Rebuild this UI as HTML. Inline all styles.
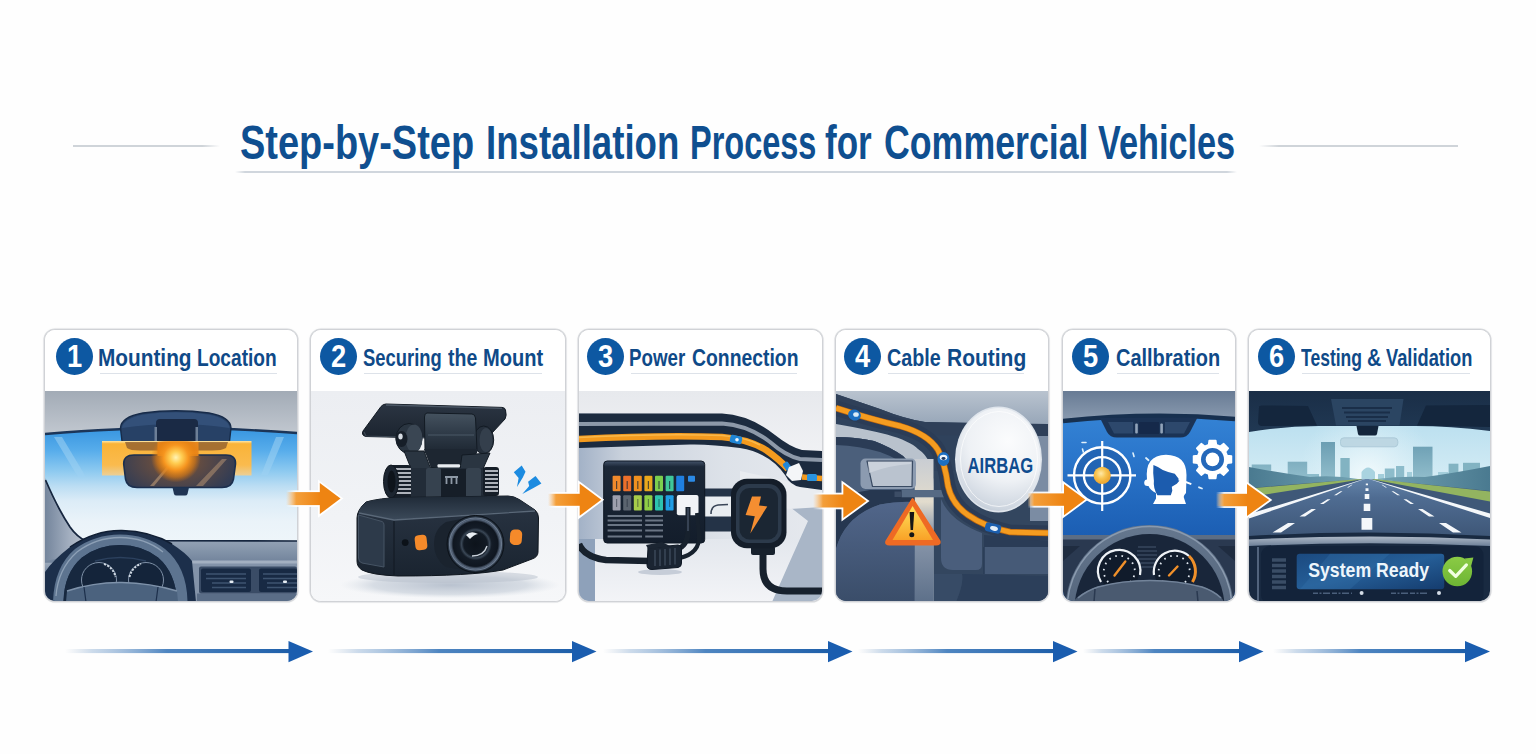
<!DOCTYPE html>
<html lang="en">
<head>
<meta charset="utf-8">
<title>Step-by-Step Installation Process for Commercial Vehicles</title>
<style>
  html,body{margin:0;padding:0;}
  body{width:1536px;height:754px;overflow:hidden;background:#fefefe;
    font-family:"Liberation Sans",sans-serif;}
  .page{position:relative;width:1536px;height:754px;background:#fefefe;overflow:hidden;}
  .title{position:absolute;left:0;top:114.6px;width:1536px;height:56px;margin:0;white-space:nowrap;
    font-size:48px;line-height:56px;font-weight:700;color:#0f4f90;letter-spacing:0;}
  .title .w{position:absolute;top:0;display:block;transform-origin:0 50%;}
  #w0{left:239.6px;transform:scaleX(0.7907);}
  #w1{left:485.9px;transform:scaleX(0.7631);}
  #w2{left:690.2px;transform:scaleX(0.6767);}
  #w3{left:824.9px;transform:scaleX(0.7297);}
  #w4{left:884.2px;transform:scaleX(0.7442);}
  #w5{left:1098.3px;transform:scaleX(0.7139);}
  .rule{position:absolute;height:2px;background:#d5dde6;}
  .card{position:absolute;top:329px;height:273px;box-sizing:border-box;
    border:1px solid #d0d2d6;border-radius:11px;background:#fff;overflow:hidden;
    box-shadow:0 0 0 .6px #dadcdf,0 0 2px rgba(140,145,155,.22);}
  .head{position:absolute;left:0;top:0;right:0;height:61px;background:#fff;}
  .num{position:absolute;top:7.9px;width:37px;height:37px;border-radius:50%;
    background:#0d58a2;color:#fff;font-weight:700;font-size:31px;line-height:37px;text-align:center;}
  .num b{display:inline-block;transform:scaleX(.88);}
  .lbl{position:absolute;left:0;top:13.7px;width:100%;height:28px;white-space:nowrap;font-weight:700;font-size:24px;line-height:28px;
    color:#0f4a88;}
  .lbl .w{position:absolute;top:0;display:block;transform-origin:0 50%;}
  #l10{left:52.7px;transform:scaleX(0.8667);}
  #l11{left:152.0px;transform:scaleX(0.7970);}
  #l20{left:51.6px;transform:scaleX(0.7670);}
  #l21{left:137.0px;transform:scaleX(0.8116);}
  #l22{left:172.4px;transform:scaleX(0.8365);}
  #l30{left:50.0px;transform:scaleX(0.7803);}
  #l31{left:113.4px;transform:scaleX(0.8070);}
  #l40{left:50.8px;transform:scaleX(0.8221);}
  #l41{left:110.7px;transform:scaleX(0.8743);}
  #l50{left:52.7px;transform:scaleX(0.8318);}
  #l60{left:52.0px;transform:scaleX(0.7304);}
  #l61{left:117.8px;transform:scaleX(0.8256);}
  #l62{left:137.4px;transform:scaleX(0.7619);}
  .ul{position:absolute;top:43px;height:1.4px;background:#dde2e9;}
  .art{position:absolute;left:0;top:61px;display:block;}
  .flow{position:absolute;left:0;top:0;width:1536px;height:754px;pointer-events:none;}
</style>
</head>
<body>
<div class="page">

  <h1 class="title" id="title"><span class="w" id="w0">Step-by-Step</span> <span class="w" id="w1">Installation</span> <span class="w" id="w2">Process</span> <span class="w" id="w3">for</span> <span class="w" id="w4">Commercial</span> <span class="w" id="w5">Vehicles</span></h1>
  <div class="rule" style="left:73px;top:145.200px;width:147px;height:1.500px;background:linear-gradient(90deg,#cfd4d9 0,#cfd4d9 88%,rgba(207,212,217,0) 100%)"></div>
  <div class="rule" style="left:1259px;top:145.200px;width:199px;height:1.500px;background:linear-gradient(90deg,rgba(207,212,217,0) 0,#cfd4d9 10%,#cfd4d9 100%)"></div>
  <div class="rule" style="left:235px;top:171.200px;width:1002px;height:1.600px;background:linear-gradient(90deg,rgba(208,214,221,0) 0,#d0d6dd 1%,#d0d6dd 99%,rgba(208,214,221,0) 100%)"></div>

  <!-- CARD 1 -->
  <section class="card" id="c1" style="left:44px;width:254px;">
    <div class="head"><span class="num" style="left:11px"><b>1</b></span>
      <span class="lbl"><span class="w" id="l10">Mounting</span> <span class="w" id="l11">Location</span></span><i class="ul" style="left:55px;width:177px"></i></div>
    <svg class="art" id="a1" width="252" height="211" viewBox="45 390 252 211">
      <defs>
        <linearGradient id="a1roof" x1="0" y1="0" x2="0" y2="1"><stop offset="0" stop-color="#a2abb6"/><stop offset="1" stop-color="#c3c9d1"/></linearGradient>
        <linearGradient id="a1glass" x1="0" y1="0" x2="0" y2="1"><stop offset="0" stop-color="#3795e0"/><stop offset=".2" stop-color="#58adeb"/><stop offset=".38" stop-color="#8ecaf0"/><stop offset=".51" stop-color="#bbddf3"/><stop offset=".64" stop-color="#dcecf7"/><stop offset=".82" stop-color="#eaf3f9"/><stop offset="1" stop-color="#eef5fa"/></linearGradient>
        <radialGradient id="a1glow" cx="175.9" cy="456.500" r="25" gradientUnits="userSpaceOnUse"><stop offset="0" stop-color="#fff4b5"/><stop offset=".24" stop-color="#ffcd52"/><stop offset=".5" stop-color="#f6951f"/><stop offset=".78" stop-color="#e6800f" stop-opacity=".6"/><stop offset="1" stop-color="#d9740e" stop-opacity="0"/></radialGradient><clipPath id="a1gc"><rect x="101.500" y="440" width="149" height="48"/></clipPath>
        <linearGradient id="a1org" x1="0" y1="0" x2="0" y2="1"><stop offset="0" stop-color="#ffe7a6"/><stop offset=".08" stop-color="#f9b338"/><stop offset=".7" stop-color="#fabb4e"/><stop offset="1" stop-color="#fbcf86" stop-opacity=".85"/></linearGradient>
        <linearGradient id="a1dash" x1="0" y1="0" x2="0" y2="1"><stop offset="0" stop-color="#93a2b5"/><stop offset=".35" stop-color="#71839b"/><stop offset=".36" stop-color="#9aa8ba"/><stop offset=".5" stop-color="#7f90a7"/><stop offset="1" stop-color="#6c7f98"/></linearGradient>
        <linearGradient id="a1pillar" x1="0" y1="0" x2="1" y2="0"><stop offset="0" stop-color="#74859c"/><stop offset=".6" stop-color="#a3afc0"/><stop offset="1" stop-color="#b9c1cc"/></linearGradient>
        <radialGradient id="a1mir" cx="176" cy="460" r="62" gradientUnits="userSpaceOnUse" gradientTransform="translate(0 184) scale(1 .6)"><stop offset="0" stop-color="#8a5a32"/><stop offset=".45" stop-color="#5d4a44"/><stop offset="1" stop-color="#323c54"/></radialGradient>
      </defs>
      <rect x="45" y="390" width="252" height="45" fill="url(#a1roof)"/>
      <!-- windshield glass -->
      <path d="M45 433 Q120 427 172 427 Q230 427 297 432 L297 541 L45 541 Z" fill="url(#a1glass)"/>
      <path d="M54 436 L62 436 L86 476 L78 476 Z" fill="#9fd2f3" opacity=".55"/>
      <path d="M276 436 L284 436 L268 474 L261 474 Z" fill="#9fd2f3" opacity=".55"/>
      <path d="M45 433 Q120 427 172 427 Q230 427 297 432" fill="none" stroke="#1c3558" stroke-width="2.4"/>
      <!-- mount housing -->
      <path d="M120.500 427 Q121 416 143 412 Q176 407.500 209 412 Q230.500 416 231 427 L229.500 440 Q227 448 214 448.500 L138 448.500 Q124 448 122 440 Z" fill="#274166" stroke="#172b49" stroke-width="1.400"/>
      <path d="M122 427 Q123 417.500 144 413.500 Q176 409 208 413.500 Q229 417.500 229.500 427 Q176 419 122 427 Z" fill="#335079"/>
      
      <rect x="156" y="418" width="42" height="24" rx="4" fill="#1a2a45"/>
      <rect x="154.500" y="426" width="2.5" height="14" fill="#6d7f97"/><rect x="195.500" y="426" width="2.500" height="14" fill="#6d7f97"/>
      <!-- highlighted mounting zone -->
      <rect x="102" y="440" width="149.500" height="34.500" fill="url(#a1org)"/>
      <path d="M125 441 L228 441 L226 447 Q222 449.500 212 449.500 L140 449.500 Q130 449.500 127 447 Z" fill="#8a5a2e" opacity=".75"/>
      <!-- mirror -->
      <path d="M134 454 L226 454 Q236 454 235.5 463 L233.500 478 Q232 486.5 222 486.5 L137 486.5 Q127 486.5 125.500 478 L123.700 463 Q123.500 454 134 454 Z" fill="url(#a1mir)" stroke="#1b2f4f" stroke-width="1.6"/>
      <path d="M150 485 L170 462 L173 462 L154 485 Z" fill="#c9a27a" opacity=".55"/>
      <path d="M196 485 L222 458 L227 458 L203 485 Z" fill="#c9a27a" opacity=".45"/>
      <path d="M172.500 486.500 L189 486.500 L187.500 493 Q187 494.500 185 494.500 L176.500 494.500 Q174.500 494.500 174 493 Z" fill="#1f3453"/>
      <rect x="157.500" y="441" width="41" height="14" fill="#ee8a1c" opacity=".9"/>
      <circle cx="175.900" cy="456.500" r="25" fill="url(#a1glow)" clip-path="url(#a1gc)"/>
      <!-- A pillar -->
      <path d="M45 477 L46 480 Q58 508 70 526 Q77 536 86 540 L60 560 L45 566 Z" fill="url(#a1pillar)"/>
      <path d="M45.500 479 Q58 508 70 526 Q77 536 86 540" fill="none" stroke="#16263f" stroke-width="1.800"/>
      <!-- dashboard -->
      <path d="M150 540 L297 540 L297 601 L45 601 L45 560 Z" fill="url(#a1dash)"/>
      <path d="M155 539.700 L297 540" stroke="#16263f" stroke-width="1.6" fill="none"/>
      <rect x="190" y="561" width="107" height="40" fill="#8393a9"/>
      <rect x="190" y="559.500" width="107" height="3" fill="#a3b0c1"/>
      <!-- instrument cowl -->
      <path d="M45 571 Q52 560 70 546 Q95 529 122 529.500 Q150 530 172 543 Q186 552 192 560 L196 601 L45 601 Z" fill="#1c2f4b"/>
      <path d="M70 546 Q95 529 122 529.500 Q150 530 172 543" fill="none" stroke="#101e33" stroke-width="1.5"/>
      <!-- steering wheel -->
      <path d="M53 601 Q54 566 75 548 Q95 533.500 120 533.500 Q146 533.500 165 548 Q187 566 187.500 601 L177 601 Q176 572 158 556.500 Q142 544 120 544 Q98 544 82 556.500 Q64 572 63.500 601 Z" fill="#5d7490"/>
      <path d="M56 595 Q58 568 77 551 Q96 536.500 120 536.500 Q145 536.500 163 551" fill="none" stroke="#8da0b6" stroke-width="1.3"/>
      <path d="M63.500 601 Q64 572 82 556.500 Q98 544 120 544 Q142 544 158 556.500 Q176 572 177 601 Z" fill="#17283f"/>
      <path d="M95 560 Q120 553 146 560" fill="none" stroke="#2c415e" stroke-width="1.5"/>
      <!-- gauges -->
      <circle cx="99" cy="579" r="17.500" fill="#14243a" stroke="#7f91a7" stroke-width="1"/>
      <circle cx="146" cy="579" r="17.500" fill="#14243a" stroke="#7f91a7" stroke-width="1"/>
      <path d="M104 563 A17 17 0 0 1 115.500 576" fill="none" stroke="#cfd8e2" stroke-width="2" stroke-dasharray="2.2 1.300"/>
      <path d="M129.500 576 A17 17 0 0 1 141 563" fill="none" stroke="#cfd8e2" stroke-width="2" stroke-dasharray="2.2 1.300"/>
      <!-- hub -->
      <path d="M67 590 Q95 581 122 581.500 Q150 582 177 590 L178 601 L66 601 Z" fill="#4b627e"/>
      <path d="M67 590 Q95 581 122 581.500 Q150 582 177 590" fill="none" stroke="#7e92aa" stroke-width="1.4"/>
      <path d="M84 586 L86 601 M158 586 L156 601" stroke="#1c2f4b" stroke-width="1.2"/>
      <!-- vents -->
      <rect x="197" y="592.500" width="100" height="8.500" fill="#5a6d87"/>
      <rect x="199" y="565.500" width="98" height="27" rx="2" fill="#3a4c66"/>
      <rect x="201" y="567.500" width="50" height="23.500" rx="2" fill="#182a44"/>
      <rect x="259" y="567.500" width="38" height="23.500" rx="2" fill="#182a44"/>
      <path d="M206 573 H246 M206 577.500 H246 M212 582 H246 M212 586.500 H246 M263 573 H297 M263 577.500 H297 M267 582 H297 M267 586.500 H297" stroke="#3e5470" stroke-width="1.400"/>
      <rect x="229.500" y="579.500" width="4" height="2.400" rx="1" fill="#e6edf3"/><rect x="283" y="579.500" width="4" height="2.400" rx="1" fill="#e6edf3"/>
    </svg>
  </section>

  <!-- CARD 2 -->
  <section class="card" id="c2" style="left:310px;width:256px;">
    <div class="head"><span class="num" style="left:9px"><b>2</b></span>
      <span class="lbl"><span class="w" id="l20">Securing</span> <span class="w" id="l21">the</span> <span class="w" id="l22">Mount</span></span><i class="ul" style="left:53px;width:178px"></i></div>
    <svg class="art" id="a2" width="254" height="211" viewBox="311 390 254 211">
      <defs>
        <linearGradient id="a2bg" x1="0" y1="0" x2="0" y2="1"><stop offset="0" stop-color="#eceef2"/><stop offset=".6" stop-color="#f1f3f6"/><stop offset="1" stop-color="#f6f7f9"/></linearGradient>
        <radialGradient id="a2sh" cx="450" cy="584" r="110" gradientTransform="translate(0 514) scale(1 .12)" gradientUnits="userSpaceOnUse"><stop offset="0" stop-color="#b9c2cf"/><stop offset=".7" stop-color="#cfd6df" stop-opacity=".8"/><stop offset="1" stop-color="#dfe4ea" stop-opacity="0"/></radialGradient>
        <linearGradient id="a2top" x1="0" y1="0" x2="0" y2="1"><stop offset="0" stop-color="#1f2a37"/><stop offset="1" stop-color="#3b4959"/></linearGradient>
        <linearGradient id="a2front" x1="0" y1="0" x2="0" y2="1"><stop offset="0" stop-color="#2a3544"/><stop offset="1" stop-color="#1a2430"/></linearGradient>
        <linearGradient id="a2plate" x1="0" y1="0" x2="0" y2="1"><stop offset="0" stop-color="#2b3542"/><stop offset="1" stop-color="#1b242f"/></linearGradient>
        <linearGradient id="a2bar" x1="0" y1="0" x2="0" y2="1"><stop offset="0" stop-color="#45525f"/><stop offset=".45" stop-color="#303c49"/><stop offset="1" stop-color="#1b242f"/></linearGradient>
        <radialGradient id="a2lens" cx="475.500" cy="543" r="28" gradientUnits="userSpaceOnUse"><stop offset="0" stop-color="#0d131b"/><stop offset=".42" stop-color="#121a24"/><stop offset=".5" stop-color="#3a4756"/><stop offset=".58" stop-color="#141c27"/><stop offset=".8" stop-color="#0f1620"/><stop offset=".88" stop-color="#56657a"/><stop offset="1" stop-color="#1a2430"/></radialGradient>
      </defs>
      <rect x="311" y="390" width="254" height="211" fill="url(#a2bg)"/>
      <ellipse cx="450" cy="584" rx="112" ry="15" fill="url(#a2sh)"/>
      <ellipse cx="448" cy="576" rx="90" ry="6" fill="#b7c0cc" opacity=".5"/>
      <!-- top adhesive plate -->
      <path d="M386 403 Q383 403 381 405.500 L363 430 Q361 434.500 366 435.500 L430 437 L492 432 L505 418 Q507 415 505.500 409 Q505 406.500 502 406.400 Z" fill="url(#a2plate)" stroke="#121a23" stroke-width="1"/>
      <path d="M386 404 L502 407.400" stroke="#4c5866" stroke-width="1.400" fill="none"/>
      <path d="M364 431 L366 435 L425 436.500" stroke="#3d4855" stroke-width="1.200" fill="none"/>
      <!-- right ear -->
      <ellipse cx="483.700" cy="439" rx="10" ry="14" fill="#252f3b" stroke="#121a23" stroke-width="1"/>
      <ellipse cx="486" cy="439" rx="6.500" ry="12" fill="#343f4c"/>
      <!-- center hinge block -->
      <path d="M427 412 L472 413 Q475 413.200 475.500 417 L477 449 Q477 454 472 454 L430 454 Q425 454 425 449 L424.500 416 Q424.500 412 427 412 Z" fill="url(#a2bar)" stroke="#121a23" stroke-width="1"/>
      <path d="M428 434 L474 434" stroke="#4b5866" stroke-width="1.200"/>
      <!-- left ear with bolt -->
      <ellipse cx="409" cy="437.500" rx="13" ry="15" fill="#2a3541" stroke="#121a23" stroke-width="1"/>
      <ellipse cx="414" cy="437.500" rx="8.500" ry="14" fill="#3a4653"/>
      <ellipse cx="401.500" cy="438" rx="6" ry="8" fill="#161e28"/>
      <ellipse cx="400.500" cy="435.500" rx="2.200" ry="3" fill="#d5dbe2"/>
      <!-- arms -->
      <path d="M424 448 L478 448 L470 470 L432 470 Z" fill="#1d2631"/>
      <path d="M404 450 L424 450 L430 466 L440 468 L440 498 L416 498 L412 470 Z" fill="#2a3541" stroke="#121a23" stroke-width="1"/>
      <path d="M462 454 L490 452 L482 470 L482 498 L460 498 L460 468 Z" fill="#2a3541" stroke="#121a23" stroke-width="1"/>
      <!-- lower barrel -->
      <rect x="405" y="467" width="82" height="31" rx="3" fill="#222c38"/>
      <rect x="426" y="467" width="15" height="32" rx="2" fill="#36424f"/><rect x="466" y="467" width="15" height="32" rx="2" fill="#36424f"/>
      <rect x="441" y="468" width="25" height="30" fill="#161e28"/>
      <rect x="437.500" y="463.300" width="22.500" height="3.200" rx="1" fill="#e9edf1"/>
      <path d="M445 476 H458 M446.500 476 V483 M451.500 476 V483 M456.500 476 V483" stroke="#8e99a6" stroke-width="1.800" fill="none"/>
      <!-- knurled knobs -->
      <rect x="390" y="464" width="21" height="33" rx="3" fill="#161e28"/>
      <path d="M394 468 H411 M394 472 H411 M394 476 H411 M394 480 H411 M394 484 H411 M394 488 H411 M394 492 H411" stroke="#dfe4ea" stroke-width="1.700"/>
      <ellipse cx="391" cy="480.500" rx="7.500" ry="16.500" fill="#1c2530" stroke="#10171f" stroke-width="1"/>
      <ellipse cx="391.500" cy="480.500" rx="4" ry="11" fill="#0e141b"/>
      <rect x="483" y="466" width="16" height="29" rx="3" fill="#161e28"/>
      <path d="M485 470 H498 M485 474 H498 M485 478 H498 M485 482 H498 M485 486 H498 M485 490 H498" stroke="#dfe4ea" stroke-width="1.700"/>
      <!-- body -->
      <path d="M366 501 Q380 497 400 496.500 L508 495 Q514 495 520 499 L535 509 Q538.500 512 538.500 517 L538 551 Q538 556 532 558 L503 569 Q470 575 398 575 Q372 574 362 569 Q357 566 357 560 L357 517 Q357 509 366 501 Z" fill="url(#a2front)" stroke="#10171f" stroke-width="1"/>
      <path d="M366 501 Q380 497 400 496.500 L508 495 Q514 495 520 499 L535 509 L394 518.500 L358.500 511.500 Q360 506 366 501 Z" fill="url(#a2top)"/>
      <path d="M359 512 L394 519 L535 510" stroke="#5a6878" stroke-width="1.300" fill="none"/>
      <path d="M358.500 514 L382 520.500 Q384 521.200 384 524 L384 566 L362 562 Q358.500 561 358.500 557 Z" fill="#2d3a4a" stroke="#465464" stroke-width="1"/>
      <path d="M394 520 L394 574" stroke="#141c26" stroke-width="1.200"/>
      <!-- lens -->
      <path d="M446 521 Q434 528 434 543 Q434 558 446 566 L476 571 L476 515 Z" fill="#1a232e"/>
      <circle cx="475.500" cy="543" r="28.500" fill="url(#a2lens)" stroke="#0c1219" stroke-width="1"/>
      <circle cx="475.500" cy="543" r="26" fill="none" stroke="#6b7a8e" stroke-width="1.200"/>
      <path d="M466 534 Q471 529 478 533 Q474 533.500 470 538 Z" fill="#e9eef3"/>
      <path d="M472 555 Q484 555 487 545" stroke="#c8d0d9" stroke-width="1.400" fill="none"/>
      <!-- markers -->
      <rect x="415" y="534" width="12" height="15" rx="4" fill="#f58a2a" transform="rotate(-6 421 541.500)"/>
      <rect x="510" y="528.500" width="12" height="15.500" rx="4.500" fill="#f58a2a" transform="rotate(4 516 536)"/>
      <circle cx="405.200" cy="541.600" r="3.400" fill="#0c1219"/>
      <!-- sparks -->
      <path d="M521.700 464.400 L525.500 470.800 L522.800 476.600 L517 486.100 L518.600 477.100 L513.800 471.300 Z" fill="#1c8be0"/>
      <path d="M535.500 475 L541.400 482.400 L533.900 486.700 L522.300 493 L529.200 485.100 L528.100 480.800 Z" fill="#1c8be0"/>
    </svg>
  </section>

  <!-- CARD 3 -->
  <section class="card" id="c3" style="left:578px;width:245px;">
    <div class="head"><span class="num" style="left:8px"><b>3</b></span>
      <span class="lbl"><span class="w" id="l30">Power</span> <span class="w" id="l31">Connection</span></span><i class="ul" style="left:52px;width:166px"></i></div>
    <svg class="art" id="a3" width="243" height="211" viewBox="579 390 243 211">
      <defs>
        <linearGradient id="a3bg" x1="0" y1="0" x2="1" y2="0"><stop offset="0" stop-color="#a3b2c7"/><stop offset=".18" stop-color="#c9d1dc"/><stop offset=".6" stop-color="#dde2e9"/><stop offset="1" stop-color="#e6e9ee"/></linearGradient>
        <linearGradient id="a3top" x1="0" y1="0" x2="0" y2="1"><stop offset="0" stop-color="#e7e9ed"/><stop offset="1" stop-color="#f0f1f4"/></linearGradient>
        <linearGradient id="a3box" x1="0" y1="0" x2="0" y2="1"><stop offset="0" stop-color="#43536a"/><stop offset=".07" stop-color="#1c2838"/><stop offset="1" stop-color="#131d2b"/></linearGradient>
        <linearGradient id="a3low" x1="0" y1="0" x2="0" y2="1"><stop offset="0" stop-color="#e3e7ed"/><stop offset="1" stop-color="#f3f4f7"/></linearGradient>
      </defs>
      <rect x="579" y="390" width="243" height="211" fill="url(#a3bg)"/>
      <!-- upper light wall -->
      <path d="M579 390 H822 V452 L802 449 Q790 446 775 434 Q750 414 722 412.500 L579 412.500 Z" fill="url(#a3top)"/>
      <!-- lower light panels -->
      <path d="M595 538 L822 538 L822 601 L595 601 Z" fill="url(#a3low)"/>
      <path d="M579 538 L595 538 L595 601 L579 601 Z" fill="#8ea1ba"/>
      <path d="M790 506 L822 504 L822 601 L772 601 Q790 560 808 520 Z" fill="#a9b6c7"/>
      <path d="M740 470 L822 488 L822 506 L790 508 L740 500 Z" fill="#e9ecf0"/>
      <!-- cable channel band -->
      <path d="M579 412.500 L722 412.500 Q750 414 775 434 Q790 446 802 449 L822 450 L822 489 L800 486 Q790 484 785 474 Q770 452 740 447 Q710 443 690 443.500 L579 447 Z" fill="#1c2b3f"/>
      <path d="M579 423 L722 422.500 Q748 424 770 441 Q786 455 800 458 L822 459" fill="none" stroke="#8d99a9" stroke-width="4"/>
      <path d="M579 438 Q660 434 722 436 Q748 438 766 449 Q780 459 788 468" fill="none" stroke="#f39a1e" stroke-width="6.500" stroke-linecap="butt"/>
      <path d="M579 436.500 Q660 432.500 722 434.500 Q745 436 760 444" fill="none" stroke="#f9b84a" stroke-width="1.500"/>
      <path d="M802 476 L822 477.500" stroke="#f39a1e" stroke-width="5.500"/>
      <rect x="730" y="434.500" width="12" height="8" rx="2" fill="#1f86d6" transform="rotate(12 736 438.500)"/><circle cx="737" cy="438.700" r="1.800" fill="#eaf3fb"/>
      <rect x="784" y="461" width="6" height="8" rx="1.500" fill="#1f86d6" transform="rotate(-35 787 465)"/>
      <rect x="807" y="473" width="10" height="7" rx="1.500" fill="#2a94e0"/>
      <path d="M789 466 L799 462 L803 470 L801 479 L792 480 L786 474 Z" fill="#f4f6f8"/>
      <!-- bar between box and plug -->
      <rect x="703" y="487.500" width="34" height="43" fill="#243347"/>
      <rect x="703" y="495.500" width="34" height="20" fill="#e9edf1"/>
      <path d="M711 513 Q711 505 718 504 L728 503.500" fill="none" stroke="#3a4658" stroke-width="1.600"/>
      <!-- fuse box -->
      <rect x="603.700" y="460" width="101" height="82" rx="3.500" fill="url(#a3box)" stroke="#0f1824" stroke-width="1"/>
      <g id="fuses-top">
        <rect x="612.600" y="474.800" width="8" height="15.400" rx="1" fill="#f08a2c"/>
        <rect x="623.200" y="474.800" width="8" height="15.400" rx="1" fill="#ec6f2a"/>
        <rect x="633.800" y="474.800" width="8" height="15.400" rx="1" fill="#f0901f"/>
        <rect x="644.400" y="474.800" width="8" height="15.400" rx="1" fill="#e9a81c"/>
        <rect x="655" y="474.800" width="8" height="15.400" rx="1" fill="#7ccf4e"/>
        <rect x="665.600" y="474.800" width="8" height="15.400" rx="1" fill="#3fc79a"/>
        <rect x="676.200" y="474.800" width="8" height="15.400" rx="1" fill="#1f7fe0"/>
        <rect x="688" y="474.800" width="7" height="6" rx="1" fill="#2b8ae6"/>
        <path d="M616.600 480 V488 M627.200 480 V488 M637.800 480 V488 M648.400 480 V488 M659 480 V488 M669.600 480 V488" stroke="#1a2432" stroke-width="1.200" opacity=".7"/>
      </g>
      <g id="fuses-bottom">
        <rect x="612.600" y="494.200" width="8" height="15.200" rx="1" fill="#9e9fae"/>
        <rect x="623.200" y="494.200" width="8" height="15.200" rx="1" fill="#5c6470"/>
        <rect x="633.800" y="494.200" width="8" height="15.200" rx="1" fill="#a6cc4a"/>
        <rect x="644.400" y="494.200" width="8" height="15.200" rx="1" fill="#8fce45"/>
        <rect x="655" y="494.200" width="8" height="15.200" rx="1" fill="#2ec4b0"/>
        <rect x="665.600" y="494.200" width="8" height="15.200" rx="1" fill="#1f9de6"/>
        <path d="M616.600 498 V506 M627.200 498 V506 M637.800 498 V506 M648.400 498 V506 M659 498 V506 M669.600 498 V506" stroke="#1a2432" stroke-width="1.200" opacity=".45"/>
      </g>
      <path d="M607.600 515 H642 M607.600 519.500 H642 M607.600 524 H642 M607.600 529.500 H642 M607.600 535.500 H642 M645.200 515 H663 M645.200 519.500 H663 M645.200 524 H663 M645.200 529.500 H663 M645.200 535.500 H663" stroke="#6a7584" stroke-width="2"/>
      <rect x="676.800" y="494" width="21.700" height="20.300" rx="2" fill="#f1f3f6"/>
      <!-- cables from fuse box -->
      <path d="M688 506 L688 530 Q688 545 676 549" fill="none" stroke="#17212d" stroke-width="5"/>
      <path d="M697 512 L699 535 Q700 552 680 557" fill="none" stroke="#17212d" stroke-width="4"/>
      <path d="M688 507 L688 530" stroke="#56657a" stroke-width="1"/>
      <path d="M579 543 Q584 556 606 559 L650 560" fill="none" stroke="#17212d" stroke-width="6.500"/>
      <ellipse cx="660" cy="571" rx="22" ry="3" fill="#c6cdd8"/>
      <path d="M648 547 L678 544 Q681.500 544 681.500 548 L681.500 562 Q681.500 566 678 566.500 L652 568.500 Q647 568.500 647 564 Z" fill="#1b2532" stroke="#0f1824" stroke-width="1"/>
      <path d="M646 544 L662 541 L670 545 L648 548 Z" fill="#1b2532"/>
      <path d="M655 549 V565 M660 548.500 V565 M665 548 V564.500 M670 547.500 V564 M675 547 V563.500" stroke="#3d4a5b" stroke-width="1.400"/>
      <!-- plug -->
      <path d="M763 553 L763 568 Q763 590 787 590 L822 590" fill="none" stroke="#17212d" stroke-width="7"/>
      <rect x="751" y="545" width="24" height="9" rx="2" fill="#17212d"/>
      <rect x="731" y="477.700" width="55.500" height="69.500" rx="16" fill="#141d29"/>
      <rect x="736" y="483" width="45.500" height="59" rx="12.500" fill="#2c3a4b"/>
      <rect x="739.500" y="487" width="38.500" height="51.500" rx="10" fill="#1b2633"/>
      <path d="M752 495.500 L761 495.500 L759 504.500 L767.300 505.400 L750.300 532.500 L754.800 515.300 L745.600 514 Z" fill="#f58e31"/>
    </svg>
  </section>

  <!-- CARD 4 -->
  <section class="card" id="c4" style="left:835px;width:214px;">
    <div class="head"><span class="num" style="left:8px"><b>4</b></span>
      <span class="lbl"><span class="w" id="l40">Cable</span> <span class="w" id="l41">Routing</span></span><i class="ul" style="left:52px;width:136px"></i></div>
    <svg class="art" id="a4" width="212" height="211" viewBox="836 390 212 211">
      <defs>
        <linearGradient id="a4sky" x1="0" y1="0" x2="0" y2="1"><stop offset="0" stop-color="#b9c3cf"/><stop offset="1" stop-color="#97a6b8"/></linearGradient>
        <linearGradient id="a4dome" x1="0" y1="0" x2="0" y2="1"><stop offset="0" stop-color="#51668a"/><stop offset="1" stop-color="#3a4d69"/></linearGradient>
        <linearGradient id="a4pil" x1="0" y1="0" x2="0" y2="1"><stop offset="0" stop-color="#c9cdd3"/><stop offset=".3" stop-color="#e2dccd"/><stop offset=".5" stop-color="#8e9bae"/><stop offset="1" stop-color="#5d708a"/></linearGradient>
        <radialGradient id="a4bag" cx="1008" cy="440" r="80" gradientUnits="userSpaceOnUse"><stop offset="0" stop-color="#fbfcfd"/><stop offset=".5" stop-color="#eef1f5"/><stop offset=".85" stop-color="#cdd5df"/><stop offset="1" stop-color="#b4bfcd"/></radialGradient>
        <linearGradient id="a4tri" x1="0" y1="0" x2="0" y2="1"><stop offset="0" stop-color="#ffe15a"/><stop offset="1" stop-color="#f9a227"/></linearGradient>
      </defs>
      <rect x="836" y="390" width="212" height="211" fill="#2f425c"/>
      <!-- upper light wall -->
      <path d="M836 390 H1048 V424 L925 421 Q905 418 880 408 L836 393 Z" fill="url(#a4sky)"/>
      <!-- dark roof rail -->
      <path d="M836 393 L880 408 Q905 418 925 421 L1048 423 L1048 435 L925 434 Q905 432 880 422 L836 404 Z" fill="#2f4059"/>
      <!-- right panels -->
      <path d="M934 470 L1048 470 L1048 601 L934 601 Z" fill="#33465f"/>
      <path d="M941 498 Q950 520 982 532 L982 563 Q982 569 976 569 L953 569 Q941 569 941 557 Z" fill="#4a5e7c"/>
      <path d="M984 534 L1048 540 L1048 546 L984 546 Z" fill="#2a3c56"/>
      <path d="M984 546 H1048 V573 H984 Z" fill="#465a77"/>
      <path d="M984 546 V573" stroke="#2a3c56" stroke-width="1.500"/>
      <path d="M962 573 Q964 582 956 601 L1048 601 L1048 575 Z" fill="#2c3f5a"/>
      <path d="M934 573 L962 573 Q964 582 956 601 L934 601 Z" fill="#374b66"/>
      <path d="M1030 435 H1048 V520 H1030 Z" fill="#7b8ca3"/>
      <!-- light trim band running into pillar -->
      <path d="M836 423 Q865 428 887 433.500 Q910 440 918 448 Q933.500 458 933.500 485 L933.500 601 L914.500 601 L914.500 490 Q916 468 903 455 Q890 446 874 440 Q855 436 836 436 Z" fill="#b9c2cd"/>
      <path d="M914.500 458 H933.500 V601 H914.500 Z" fill="url(#a4pil)"/>
      <!-- left recess -->
      <path d="M836 436 Q855 436 874 440 Q890 446 903 455 Q915 466 914.500 490 L914.500 601 L836 601 Z" fill="#4b5f7b"/>
      <path d="M836 436 Q855 436 874 440 Q890 446 903 455 Q910 461 912 470 Q900 458 880 451 Q860 445 836 444 Z" fill="#2b3c56"/>
      <path d="M836 500 Q850 492 870 489 L914.500 489 L914.500 503 Q897 500 880 503.500 Q845 515 836 548 Z" fill="#263750"/>
      <path d="M836 548 Q845 515 880 503.500 Q897 500 914.500 501 L914.500 601 L836 601 Z" fill="url(#a4dome)"/>
      <!-- handle -->
      <rect x="860.500" y="457.500" width="55.500" height="30.500" rx="5" fill="#8c9bb0"/>
      <path d="M867 460 L912.500 460 L912 485.500 L872.500 485.500 Z" fill="#bac3cf" stroke="#3a4b63" stroke-width="1.200" stroke-linejoin="round"/>
      <path d="M869 472 Q890 464 911 463 L911 461 L868 461 Z" fill="#d3d9e1" opacity=".7"/>
      <rect x="901.600" y="489" width="42.400" height="7.300" fill="#566a84"/>
      <rect x="894.500" y="490.500" width="7" height="5.500" fill="#3c4d66"/>
      <!-- cable channel -->
      <path d="M836 407 Q870 418 900 425 Q928 433 938 449 Q945 462 948 485 Q952 503 968 514 Q985 526 1010 531 L1048 532" fill="none" stroke="#2b3c56" stroke-width="15" stroke-linejoin="round"/>
      <path d="M836 407 Q870 418 900 425 Q928 433 938 449 Q945 462 948 485 Q952 503 968 514 Q985 526 1010 531 L1048 532" fill="none" stroke="#b9650f" stroke-width="6.500"/>
      <path d="M836 407 Q870 418 900 425 Q928 433 938 449 Q945 462 948 485 Q952 503 968 514 Q985 526 1010 531 L1048 532" fill="none" stroke="#f59c20" stroke-width="5"/>
      <!-- clips -->
      <ellipse cx="854.500" cy="414" rx="6.500" ry="5.500" fill="#1c6fc2" transform="rotate(18 854.500 414)"/><ellipse cx="856" cy="413.500" rx="2.800" ry="2.300" fill="#dcecf8"/>
      <ellipse cx="943.500" cy="458" rx="6" ry="7" fill="#1c6fc2"/><ellipse cx="943.500" cy="456.500" rx="3.800" ry="2.800" fill="#eef5fb"/><ellipse cx="943.500" cy="457.500" rx="2" ry="1.400" fill="#1d3a63"/>
      <rect x="985" y="522.500" width="16" height="9" rx="3" fill="#1c5fae" transform="rotate(14 993 527)"/><ellipse cx="994" cy="527.500" rx="4" ry="2.200" fill="#e4eef8" transform="rotate(14 994 527.500)"/>
      <!-- airbag -->
      <ellipse cx="998.500" cy="458.500" rx="43.500" ry="53" fill="#dfe5ec"/>
      <ellipse cx="998.500" cy="458.500" rx="42" ry="51.500" fill="url(#a4bag)"/>
      <ellipse cx="999" cy="458" rx="38.500" ry="47.500" fill="none" stroke="#ffffff" stroke-width="1" opacity=".7"/>
      <text x="967.500" y="472.300" font-family="'Liberation Sans',sans-serif" font-weight="700" font-size="22" fill="#0f4c8f" textLength="65.600" lengthAdjust="spacingAndGlyphs">AIRBAG</text>
      <!-- warning triangle -->
      <path d="M912.600 498 L939.500 540 Q940.500 543.500 936 543.500 L889.500 543.500 Q885 543.500 886.500 540 Z" fill="#ee6a24" stroke="#ee6a24" stroke-width="2" stroke-linejoin="round"/>
      <path d="M912.600 505 L933 539 L892.500 539 Z" fill="url(#a4tri)"/>
      <path d="M909.600 511 L914.200 511 L913 529 L910.600 529 Z" fill="#161616"/><circle cx="911.800" cy="533.700" r="2.500" fill="#161616"/>
    </svg>
  </section>

  <!-- CARD 5 -->
  <section class="card" id="c5" style="left:1062px;width:174px;">
    <div class="head"><span class="num" style="left:9px"><b>5</b></span>
      <span class="lbl"><span class="w" id="l50">Callbration</span></span><i class="ul" style="left:54px;width:102px"></i></div>
    <svg class="art" id="a5" width="172" height="211" viewBox="1063 390 172 211">
      <defs>
        <linearGradient id="a5roof" x1="0" y1="0" x2="0" y2="1"><stop offset="0" stop-color="#687b94"/><stop offset="1" stop-color="#8b9cb1"/></linearGradient>
        <linearGradient id="a5glass" x1="0" y1="0" x2="0" y2="1"><stop offset="0" stop-color="#3a8ada"/><stop offset=".3" stop-color="#2b77cc"/><stop offset=".7" stop-color="#1b5db2"/><stop offset="1" stop-color="#1452a6"/></linearGradient>
        <radialGradient id="a5dot" cx="1101" cy="472.500" r="9" gradientUnits="userSpaceOnUse"><stop offset="0" stop-color="#ffe9a8"/><stop offset=".55" stop-color="#f8c552"/><stop offset="1" stop-color="#eeaa35"/></radialGradient>
        <linearGradient id="a5wheel" x1="0" y1="0" x2="0" y2="1"><stop offset="0" stop-color="#65778e"/><stop offset="1" stop-color="#44546a"/></linearGradient>
      </defs>
      <rect x="1063" y="390" width="172" height="211" fill="url(#a5glass)"/>
      <path d="M1063 390 H1235 V418 Q1150 410 1063 420 Z" fill="url(#a5roof)"/>
      <path d="M1063 420 Q1150 410.500 1235 418" fill="none" stroke="#17304f" stroke-width="4.500"/>
      <!-- camera housing -->
      <path d="M1100 417 L1197.500 416.500 L1190 431 Q1187 436.500 1180 436.500 L1117 436.500 Q1110 436.500 1107 431 Z" fill="#1b3355"/>
      <path d="M1108 421 L1133 421 L1133 432.500 L1114 432.500 Z M1165 421 L1190 421 L1184 432.500 L1165 432.500 Z" fill="#2d486c"/>
      <rect x="1139" y="421" width="20" height="12" fill="#15294a"/>
      <rect x="1135.200" y="422.500" width="2.600" height="10" rx="1" fill="#91a3b9"/><rect x="1160.300" y="422.500" width="2.600" height="10" rx="1" fill="#91a3b9"/>
      <!-- target -->
      <circle cx="1102.200" cy="474.400" r="28.200" fill="#1d57a2" opacity=".55"/>
      <circle cx="1102.200" cy="474.400" r="28.200" fill="none" stroke="#fff" stroke-width="2.400"/>
      <circle cx="1102.200" cy="474.400" r="18.300" fill="none" stroke="#fff" stroke-width="2.400"/>
      <path d="M1067.500 474.400 H1136 M1102.200 440 V510" stroke="#fff" stroke-width="2.200"/>
      <circle cx="1102.200" cy="474.400" r="8.600" fill="url(#a5dot)"/>
      <path d="M1082 441.500 h4 M1133 452 l1 3.500 M1082.500 448 l.8 3" stroke="#dff0fb" stroke-width="1.600" stroke-linecap="round"/>
      <!-- head -->
      <path d="M1166 453.700 Q1186.500 454 1186.500 474 L1186 492 Q1183 495 1184 497 L1186 503 L1153 503 L1156 497.500 L1156 492 Q1150 489 1148.500 485 Q1144 485.500 1144.200 481.500 Q1144.500 478.500 1147 478.500 Q1144.500 454 1166 453.700 Z" fill="#fff"/>
      <path d="M1153.400 463.900 Q1158 465.500 1162.800 468.900 Q1169 471.500 1174.800 472.800 L1179.800 479.300 L1176.800 482.800 L1171.800 485.800 L1172.300 489.800 L1170.800 494.200 L1157.400 494.200 Q1153 487 1153.900 479.800 Q1152.800 471 1153.400 463.900 Z" fill="#1c5cae"/>
      <path d="M1178.600 478.300 L1191.300 483.100" stroke="#fff" stroke-width="2"/>
      <path d="M1146 457 l2.500 2.200 M1199 486.300 l3 1.200" stroke="#dff0fb" stroke-width="1.800" stroke-linecap="round"/>
      <!-- gear -->
      <path d="M1227.2 454.5 L1231.5 455.1 L1231.5 461.7 L1227.2 462.3 L1225.6 466.0 L1228.3 469.5 L1223.6 474.2 L1220.1 471.5 L1216.4 473.1 L1215.8 477.4 L1209.2 477.4 L1208.6 473.1 L1204.9 471.5 L1201.4 474.2 L1196.7 469.5 L1199.4 466.0 L1197.8 462.3 L1193.5 461.7 L1193.5 455.1 L1197.8 454.5 L1199.4 450.8 L1196.7 447.3 L1201.4 442.6 L1204.9 445.3 L1208.6 443.7 L1209.2 439.4 L1215.8 439.4 L1216.4 443.7 L1220.1 445.3 L1223.6 442.6 L1228.3 447.3 L1225.6 450.8 Z" fill="#fff" stroke="#fff" stroke-width="1.500" stroke-linejoin="round"/>
      <circle cx="1212.500" cy="458.400" r="11.500" fill="#2468ba"/>
      <circle cx="1212.500" cy="458.400" r="6.800" fill="#fff"/>
      <!-- dashboard -->
      <rect x="1063" y="534" width="172" height="67" fill="#2a3950"/>
      <rect x="1063" y="534" width="172" height="4.500" fill="#5c6d84"/>
      <path d="M1063 560 L1080 545 L1063 545 Z M1235 560 L1218 545 L1235 545 Z" fill="#1f2c40"/>
      <!-- steering wheel -->
      <circle cx="1149.600" cy="608" r="84" fill="url(#a5wheel)"/>
      <circle cx="1149.600" cy="608" r="82.500" fill="none" stroke="#8a9aae" stroke-width="1.500"/>
      <circle cx="1149.600" cy="608" r="75" fill="#19263a"/>
      <path d="M1138 546 H1156 M1137 550 H1157 M1137 554 H1157 M1138 558 H1156 M1139 562 H1155 M1140 566 H1154" stroke="#2f3e54" stroke-width="1.800"/>
      <!-- gauges -->
      <circle cx="1119.300" cy="570.200" r="20" fill="#101b2b"/>
      <circle cx="1174.200" cy="570.200" r="20" fill="#101b2b"/>
      <path d="M1101 581 A21.200 21.200 0 1 1 1140 574" fill="none" stroke="#eef2f6" stroke-width="2.200"/>
      <path d="M1154 574 A21.200 21.200 0 0 1 1189 555" fill="none" stroke="#eef2f6" stroke-width="2.200"/>
      <path d="M1189 555 A21.200 21.200 0 0 1 1192.500 581" fill="none" stroke="#f0902a" stroke-width="3"/>
      <circle cx="1119.300" cy="570.200" r="15.500" fill="none" stroke="#dfe6ee" stroke-width="1.800" stroke-dasharray="1.600 4.800" stroke-dashoffset="2"/>
      <circle cx="1174.200" cy="570.200" r="15.500" fill="none" stroke="#dfe6ee" stroke-width="1.800" stroke-dasharray="1.600 4.800" stroke-dashoffset="2"/>
      <path d="M1114.500 574.500 L1125.300 560.500" stroke="#f0902a" stroke-width="2.400" stroke-linecap="round"/>
      <path d="M1169 574.500 L1177.500 565.500" stroke="#f0902a" stroke-width="2.400" stroke-linecap="round"/>
      <!-- hub -->
      <path d="M1074 601 Q1076 594 1096 586 Q1122 579 1150 579 Q1178 579 1204 586 Q1222 594 1224 601 Z" fill="#4a5a70"/>
      <path d="M1078 597 Q1086 590 1098 586 Q1122 579.500 1150 579.500 Q1178 579.500 1202 586 Q1214 590 1221 597" fill="none" stroke="#73849a" stroke-width="1.600"/>
      <path d="M1095 588 L1094 601 M1197 590 L1198 601" stroke="#2a3950" stroke-width="1.500"/>
      <rect x="1063" y="560" width="172" height="41" fill="#19263a" opacity="0"/>
    </svg>
  </section>

  <!-- CARD 6 -->
  <section class="card" id="c6" style="left:1248px;width:243px;">
    <div class="head"><span class="num" style="left:9px"><b>6</b></span>
      <span class="lbl"><span class="w" id="l60">Testing</span> <span class="w" id="l61">&amp;</span> <span class="w" id="l62">Validation</span></span><i class="ul" style="left:53px;width:168px"></i></div>
    <svg class="art" id="a6" width="241" height="211" viewBox="1249 390 241 211">
      <defs>
        <linearGradient id="a6roof" x1="0" y1="0" x2="0" y2="1"><stop offset="0" stop-color="#1a2e47"/><stop offset="1" stop-color="#203853"/></linearGradient>
        <linearGradient id="a6sky" x1="0" y1="0" x2="0" y2="1"><stop offset="0" stop-color="#acd8ec"/><stop offset="1" stop-color="#d6edf5"/></linearGradient>
        <radialGradient id="a6haze" cx="1367" cy="476" r="70" gradientUnits="userSpaceOnUse"><stop offset="0" stop-color="#f4fbfd" stop-opacity=".95"/><stop offset="1" stop-color="#e0f2f8" stop-opacity="0"/></radialGradient>
        <linearGradient id="a6road" x1="0" y1="0" x2="0" y2="1"><stop offset="0" stop-color="#6283a9"/><stop offset=".3" stop-color="#4f6c92"/><stop offset="1" stop-color="#3c5474"/></linearGradient>
        <linearGradient id="a6hillL" x1="0" y1="0" x2="1" y2="0"><stop offset="0" stop-color="#4a7a90"/><stop offset="1" stop-color="#73a3b3"/></linearGradient>
        <linearGradient id="a6hillR" x1="1" y1="0" x2="0" y2="0"><stop offset="0" stop-color="#4a7a90"/><stop offset="1" stop-color="#73a3b3"/></linearGradient>
        <linearGradient id="a6disp" x1="0" y1="0" x2="1" y2="1"><stop offset="0" stop-color="#1b4a80"/><stop offset=".5" stop-color="#255e97"/><stop offset="1" stop-color="#153c6e"/></linearGradient>
        <linearGradient id="a6rim" x1="0" y1="0" x2="0" y2="1"><stop offset="0" stop-color="#aeb9c7"/><stop offset="1" stop-color="#6d8098"/></linearGradient>
        <linearGradient id="a6bld" gradientUnits="userSpaceOnUse" x1="0" y1="440" x2="0" y2="480"><stop offset="0" stop-color="#6a9db2"/><stop offset="1" stop-color="#93bfcd"/></linearGradient>
        <linearGradient id="a6chk" x1="0" y1="0" x2="0" y2="1"><stop offset="0" stop-color="#8bcb45"/><stop offset="1" stop-color="#6db534"/></linearGradient>
      </defs>
      <rect x="1249" y="390" width="241" height="92" fill="url(#a6sky)"/>
      <circle cx="1367" cy="476" r="70" fill="url(#a6haze)"/>
      <!-- skyline -->
      <g fill="url(#a6bld)">
        <rect x="1251.700" y="463.500" width="19.500" height="16"/><rect x="1287.700" y="460.700" width="19.500" height="19"/>
        <rect x="1321" y="441" width="14" height="38"/><rect x="1340.400" y="457" width="9.300" height="22" fill="#82b3c2"/>
        <rect x="1307" y="473" width="12" height="6" fill="#8dbccb"/>
        <rect x="1413" y="445.700" width="19.500" height="34"/><rect x="1384.800" y="467.500" width="9.700" height="12" fill="#8dbccb"/>
        <rect x="1396" y="465" width="8.200" height="14" fill="#8dbccb"/><rect x="1448.600" y="462.700" width="9.800" height="17" fill="#82b3c2"/>
        <rect x="1463" y="461.800" width="17" height="18" fill="#82b3c2"/><rect x="1407" y="471" width="5" height="8" fill="#a3cedb"/>
        <rect x="1378" y="473" width="6" height="6" fill="#a3cedb"/><rect x="1438" y="471" width="10" height="8" fill="#a3cedb"/>
        <path d="M1361.500 479 V471 Q1368 462 1375 471 V479 Z" fill="#a9d3e0"/>
      </g>
      <!-- hills -->
      <path d="M1249 466 Q1280 472 1310 476 Q1335 474 1358 478 L1249 489 Z" fill="url(#a6hillL)"/>
      <path d="M1490 465 Q1455 472 1425 476 Q1400 475 1377 478 L1490 492 Z" fill="url(#a6hillR)"/>
      <!-- grass + road -->
      <path d="M1249 487 L1362 478 L1372 478 L1490 490 L1490 540 L1249 540 Z" fill="#3f5878"/>
      <path d="M1249 487.500 L1360 478 L1364 478 L1249 496 Z" fill="#93b460"/>
      <path d="M1490 490.500 L1374 478 L1370 478 L1490 500.500 Z" fill="#93b460"/>
      <path d="M1249 515 L1363 478 L1371 478 L1490 515 L1490 540 L1249 540 Z" fill="url(#a6road)"/>
      <!-- lane lines -->
      <g fill="#f4f7fa">
        <path d="M1249 513 L1364.300 478 L1365 478 L1249 517.500 Z"/>
        <path d="M1490 512.500 L1369.700 478 L1369 478 L1490 517 Z"/>
        <path d="M1365.800 482.500 h2.200 v1.800 h-2.200 Z M1365.500 487.300 h3 v2.700 h-3 Z M1364.700 493 h4.600 v5 h-4.600 Z M1363.700 502.800 h6.600 v7.300 h-6.600 Z M1361.500 517 h10.800 v11.700 h-10.800 Z"/>
        <path d="M1272.500 531.500 L1288 522 L1295 522 L1281 531.500 Z M1299.500 515.500 L1311.500 508 L1316 508 L1305 515.500 Z M1320 503 L1327.500 498.300 L1330.500 498.300 L1323.500 503 Z M1334 494.300 L1340.500 490.300 L1342.500 490.300 L1336.500 494.300 Z M1347 486.500 L1351.500 483.800 L1352.500 483.800 L1348.500 486.500 Z"/>
        <path d="M1461.500 531.500 L1446 522 L1439 522 L1453 531.500 Z M1434.500 515.500 L1422.500 508 L1418 508 L1429 515.500 Z M1414 503 L1406.500 498.300 L1403.500 498.300 L1410.500 503 Z M1400 494.300 L1393.500 490.300 L1391.500 490.300 L1397.500 494.300 Z M1387 486.500 L1382.500 483.800 L1381.500 483.800 L1385.500 486.500 Z"/>
      </g>
      <!-- headliner -->
      <path d="M1249 390 H1490 V430 Q1450 425 1415 425 L1319 425 Q1285 425 1249 431 Z" fill="url(#a6roof)"/>
      <path d="M1259 406 Q1259 404.500 1262 404.500 L1308 405 L1317 424.500 L1262 425 Q1258 425 1258 421 Z" fill="#14263d"/>
      <path d="M1426 404.500 L1490 404 L1490 426 L1417 424.500 Z" fill="#14263d"/>
      <path d="M1331 398 L1403.500 398 L1399.500 424.500 L1336 424.500 Z" fill="#2b4562"/>
      <path d="M1342 407 H1392 M1344 411.500 H1390 M1346 416 H1388 M1348 420 H1386" stroke="#1a2e48" stroke-width="2"/>
      <path d="M1356.500 425 H1378.500 L1377 433 Q1376.500 434.500 1375 434.500 L1360 434.500 Q1358.500 434.500 1358 433 Z" fill="#14253b"/>
      <rect x="1340.400" y="436.800" width="57.400" height="9" rx="3.500" fill="#bcd6e2" stroke="#a3c3d2" stroke-width=".8" opacity=".92"/>
      <!-- dashboard -->
      <path d="M1249 535 Q1370 528 1490 535 L1490 601 L1249 601 Z" fill="#192a41"/>
      <path d="M1249 538.500 Q1370 532.500 1490 538.500 L1490 545 Q1370 539.500 1249 545 Z" fill="url(#a6rim)"/>
      <rect x="1261" y="545" width="222.500" height="58" rx="9" fill="#13233a"/>
      <path d="M1258 546 V601" stroke="#52647d" stroke-width="2"/>
      <path d="M1272 559 H1286 M1272 564.500 H1286 M1272 570 H1286 M1272 575.500 H1286 M1272 581 H1286 M1272 586.500 H1286" stroke="#3a4d66" stroke-width="3.600"/>
      <rect x="1296.700" y="552.700" width="147.500" height="35.500" rx="3" fill="url(#a6disp)"/>
      <path d="M1330 552.700 L1390 552.700 L1350 588.200 L1300 588.200 Z" fill="#3a7ab4" opacity=".25"/>
      <text x="1308.200" y="575.800" font-family="'Liberation Sans',sans-serif" font-weight="700" font-size="19.500" fill="#eef6fc" textLength="121" lengthAdjust="spacingAndGlyphs">System Ready</text>
      <!-- status check -->
      <circle cx="1457.300" cy="570.500" r="14.800" fill="url(#a6chk)"/><path d="M1464.500 557.500 L1473.400 556.600 L1471 565.500 Z" fill="#86c742"/>
      <path d="M1449.700 569.500 L1455.700 575.400 L1466.400 563.900" fill="none" stroke="#f1ffe0" stroke-width="3.200" stroke-linecap="round" stroke-linejoin="round"/>
      <!-- footer ticks -->
      <path d="M1313 592.300 H1352 M1391 592.300 H1429" stroke="#4a5f7b" stroke-width="1.600" stroke-dasharray="5 1.500 2 1.500 7 2"/>
      <circle cx="1361.600" cy="592" r="2" fill="#d4dce6"/><circle cx="1439" cy="592" r="2" fill="#d4dce6"/>
    </svg>
  </section>

  <!-- FLOW ARROWS -->
  <svg class="flow" id="flow" width="1536" height="754" viewBox="0 0 1536 754">
    <defs>
      <linearGradient id="gb" x1="0" x2="1" y1="0" y2="0">
        <stop offset="0" stop-color="#9fb4cc" stop-opacity="0"/>
        <stop offset=".12" stop-color="#8fb0d4" stop-opacity=".45"/>
        <stop offset=".45" stop-color="#3b78ba" stop-opacity=".9"/>
        <stop offset="1" stop-color="#1d5ea9" stop-opacity="1"/>
      </linearGradient>
      <linearGradient id="go" x1="0" x2="1" y1="0" y2="0">
        <stop offset="0" stop-color="#f5a04a" stop-opacity="0"/>
        <stop offset=".45" stop-color="#f39a3c" stop-opacity=".85"/>
        <stop offset="1" stop-color="#ee8420" stop-opacity="1"/>
      </linearGradient>
    </defs>
    <g id="step-arrows">
      <linearGradient id="oa1" gradientUnits="userSpaceOnUse" x1="286" x2="319.8" y1="0" y2="0"><stop offset="0" stop-color="#f6a94e" stop-opacity="0"/><stop offset="0.30" stop-color="#f39a30" stop-opacity=".95"/><stop offset="1" stop-color="#ee8412"/></linearGradient>
      <linearGradient id="oa1w" gradientUnits="userSpaceOnUse" x1="286" x2="319.8" y1="0" y2="0"><stop offset="0" stop-color="#fff" stop-opacity="0"/><stop offset="0.30" stop-color="#fff" stop-opacity=".9"/><stop offset="1" stop-color="#fff"/></linearGradient>
      <rect x="286" y="490.3" width="34.8" height="16.6" fill="url(#oa1w)"/>
      <path d="M319.8 483.1 L340.5 498.6 L319.8 514.1 Z" fill="#ee8412" stroke="#fff" stroke-width="3.6" stroke-linejoin="miter" paint-order="stroke"/>
      <rect x="286" y="492.1" width="35.3" height="13.0" fill="url(#oa1)"/>
      <linearGradient id="oa2" gradientUnits="userSpaceOnUse" x1="548" x2="579.7" y1="0" y2="0"><stop offset="0" stop-color="#f6a94e" stop-opacity="0"/><stop offset="0.25" stop-color="#f39a30" stop-opacity=".95"/><stop offset="1" stop-color="#ee8412"/></linearGradient>
      <linearGradient id="oa2w" gradientUnits="userSpaceOnUse" x1="548" x2="579.7" y1="0" y2="0"><stop offset="0" stop-color="#fff" stop-opacity="0"/><stop offset="0.25" stop-color="#fff" stop-opacity=".9"/><stop offset="1" stop-color="#fff"/></linearGradient>
      <rect x="548" y="492.0" width="32.7" height="15.6" fill="url(#oa2w)"/>
      <path d="M579.7 483.8 L601.2 499.8 L579.7 515.8 Z" fill="#ee8412" stroke="#fff" stroke-width="3.6" stroke-linejoin="miter" paint-order="stroke"/>
      <rect x="548" y="493.8" width="33.2" height="12.0" fill="url(#oa2)"/>
      <linearGradient id="oa3" gradientUnits="userSpaceOnUse" x1="813" x2="843.3" y1="0" y2="0"><stop offset="0" stop-color="#f6a94e" stop-opacity="0"/><stop offset="0.33" stop-color="#f39a30" stop-opacity=".95"/><stop offset="1" stop-color="#ee8412"/></linearGradient>
      <linearGradient id="oa3w" gradientUnits="userSpaceOnUse" x1="813" x2="843.3" y1="0" y2="0"><stop offset="0" stop-color="#fff" stop-opacity="0"/><stop offset="0.33" stop-color="#fff" stop-opacity=".9"/><stop offset="1" stop-color="#fff"/></linearGradient>
      <rect x="813" y="492.7" width="31.3" height="16.6" fill="url(#oa3w)"/>
      <path d="M843.3 484.0 L866.5 501.0 L843.3 518.0 Z" fill="#ee8412" stroke="#fff" stroke-width="3.6" stroke-linejoin="miter" paint-order="stroke"/>
      <rect x="813" y="494.5" width="31.8" height="13.0" fill="url(#oa3)"/>
      <linearGradient id="oa4" gradientUnits="userSpaceOnUse" x1="1027.5" x2="1064" y1="0" y2="0"><stop offset="0" stop-color="#f6a94e" stop-opacity="0"/><stop offset="0.18" stop-color="#f39a30" stop-opacity=".95"/><stop offset="1" stop-color="#ee8412"/></linearGradient>
      <linearGradient id="oa4w" gradientUnits="userSpaceOnUse" x1="1027.5" x2="1064" y1="0" y2="0"><stop offset="0" stop-color="#fff" stop-opacity="0"/><stop offset="0.18" stop-color="#fff" stop-opacity=".9"/><stop offset="1" stop-color="#fff"/></linearGradient>
      <rect x="1027.5" y="491.6" width="37.5" height="16.0" fill="url(#oa4w)"/>
      <path d="M1064.0 483.9 L1085.2 499.6 L1064.0 515.3 Z" fill="#ee8412" stroke="#fff" stroke-width="3.6" stroke-linejoin="miter" paint-order="stroke"/>
      <rect x="1027.5" y="493.4" width="38.0" height="12.4" fill="url(#oa4)"/>
      <linearGradient id="oa5" gradientUnits="userSpaceOnUse" x1="1216" x2="1247" y1="0" y2="0"><stop offset="0" stop-color="#f6a94e" stop-opacity="0"/><stop offset="0.26" stop-color="#f39a30" stop-opacity=".95"/><stop offset="1" stop-color="#ee8412"/></linearGradient>
      <linearGradient id="oa5w" gradientUnits="userSpaceOnUse" x1="1216" x2="1247" y1="0" y2="0"><stop offset="0" stop-color="#fff" stop-opacity="0"/><stop offset="0.26" stop-color="#fff" stop-opacity=".9"/><stop offset="1" stop-color="#fff"/></linearGradient>
      <rect x="1216" y="492.0" width="32.0" height="16.0" fill="url(#oa5w)"/>
      <path d="M1247.0 484.0 L1269.2 500.0 L1247.0 516.0 Z" fill="#ee8412" stroke="#fff" stroke-width="3.6" stroke-linejoin="miter" paint-order="stroke"/>
      <rect x="1216" y="493.8" width="32.5" height="12.4" fill="url(#oa5)"/>
    </g>
    <g id="bottom-arrows">
      <rect x="65" y="649" width="226.5" height="4.1" fill="url(#gb)"/><path d="M288.5 641 L313 651.6 L288.5 662.2 Z" fill="#1a5daf"/>
      <rect x="328" y="649" width="247.0" height="4.1" fill="url(#gb)"/><path d="M572 641 L596.5 651.6 L572 662.2 Z" fill="#1a5daf"/>
      <rect x="603" y="649" width="228.0" height="4.1" fill="url(#gb)"/><path d="M828 641 L852.5 651.6 L828 662.2 Z" fill="#1a5daf"/>
      <rect x="858" y="649" width="198.0" height="4.1" fill="url(#gb)"/><path d="M1053 641 L1077.5 651.6 L1053 662.2 Z" fill="#1a5daf"/>
      <rect x="1083" y="649" width="159.0" height="4.1" fill="url(#gb)"/><path d="M1239 641 L1263.5 651.6 L1239 662.2 Z" fill="#1a5daf"/>
      <rect x="1273" y="649" width="195.0" height="4.1" fill="url(#gb)"/><path d="M1465 641 L1490 651.6 L1465 662.2 Z" fill="#1a5daf"/>
    </g>
  </svg>

</div>
</body>
</html>
